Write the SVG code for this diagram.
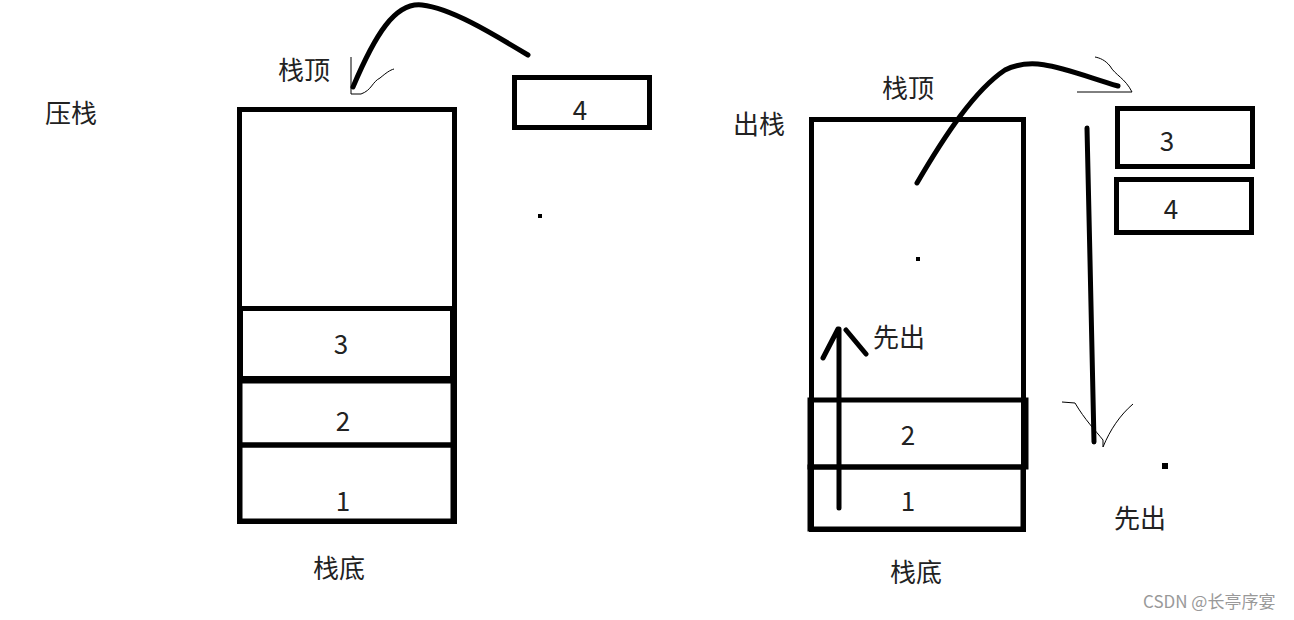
<svg xmlns="http://www.w3.org/2000/svg" width="1294" height="620" viewBox="0 0 1294 620">
<style>
.box{fill:none;stroke:#000;stroke-width:5}
.t{font-family:"Noto Sans CJK SC","Microsoft YaHei",sans-serif;font-size:26px;fill:#222;text-anchor:middle}
.lbl{font-family:"Noto Sans CJK SC",sans-serif;font-size:26px;fill:#222}
.thick{fill:none;stroke:#000;stroke-width:5;stroke-linecap:round;stroke-linejoin:round}
.thin{fill:none;stroke:#000;stroke-width:1}
.wm{font-family:"Noto Sans CJK SC",sans-serif;font-size:17px;fill:#999}
</style>
<rect width="1294" height="620" fill="#fff"/>
<g id="labels-left">
<text class="lbl" x="45" y="123">压栈</text>
<text class="lbl" x="278" y="80">栈顶</text>
<text class="lbl" x="313" y="578">栈底</text>
</g>
<g id="stack-left">
<rect class="box" x="239.5" y="109.5" width="215" height="412"/>
</g>
<g id="cell-l3"><rect class="box" x="240.5" y="308.5" width="212" height="70"/><text class="t" x="341" y="354">3</text></g>
<g id="cell-l2"><rect class="box" x="240" y="381" width="213" height="64"/><text class="t" x="343" y="431">2</text></g>
<g id="cell-l1"><rect class="box" x="240" y="445" width="213" height="76"/><text class="t" x="343" y="511">1</text></g>
<g id="box-l4"><rect class="box" x="514.5" y="77.5" width="135" height="50"/><text class="t" x="580" y="120">4</text></g>
<g id="labels-right">
<text class="lbl" x="733" y="134">出栈</text>
<text class="lbl" x="882" y="98">栈顶</text>
<text class="lbl" x="890" y="582">栈底</text>
<text class="lbl" x="873" y="347">先出</text>
<text class="lbl" x="1114" y="528">先出</text>
</g>
<g id="stack-right">
<rect class="box" x="811.5" y="119.5" width="212" height="410"/>
</g>
<g id="cell-r2"><rect class="box" x="810" y="400" width="216" height="67"/><text class="t" x="908" y="445">2</text></g>
<g id="cell-r1"><rect class="box" x="810" y="467" width="213" height="62"/><text class="t" x="908" y="511">1</text></g>
<g id="box-r3"><rect class="box" x="1117.5" y="108.5" width="135" height="58"/><text class="t" x="1167" y="151">3</text></g>
<g id="box-r4"><rect class="box" x="1116.5" y="179.5" width="135" height="53"/><text class="t" x="1171" y="219">4</text></g>
<g id="connectors">
<path class="thick" d="M353,87 C375,35 395,2 422,5 C450,8 490,32 528,55"/>
<path class="thin" d="M351,57 L351,94 L361,94 C372,90 372,82 380,78 C386,73 390,70 394,69"/>
<path class="thick" d="M917,183 C945,135 975,90 1005,70 C1035,55 1065,70 1118,86"/>
<path class="thin" d="M1077,92 L1132,92 C1125,78 1115,75 1110,66 C1105,60 1100,58 1095,57"/>
<path class="thick" d="M1087,128 L1090,260 L1094,442"/>
<path class="thin" d="M1062,402 L1075,403 C1085,420 1095,430 1103,440 L1103,447 C1110,430 1120,415 1133,404"/>
<path class="thick" d="M839,508 L839,329 M823,358 L838,329 M846,330 L866,354"/>
<rect x="538" y="214" width="4" height="4" fill="#000"/>
<rect x="916" y="257" width="4" height="4" fill="#000"/>
<rect x="1162" y="463" width="6" height="6" fill="#000"/>
</g>
<text class="wm" x="1143" y="608">CSDN @长亭序宴</text>
</svg>
